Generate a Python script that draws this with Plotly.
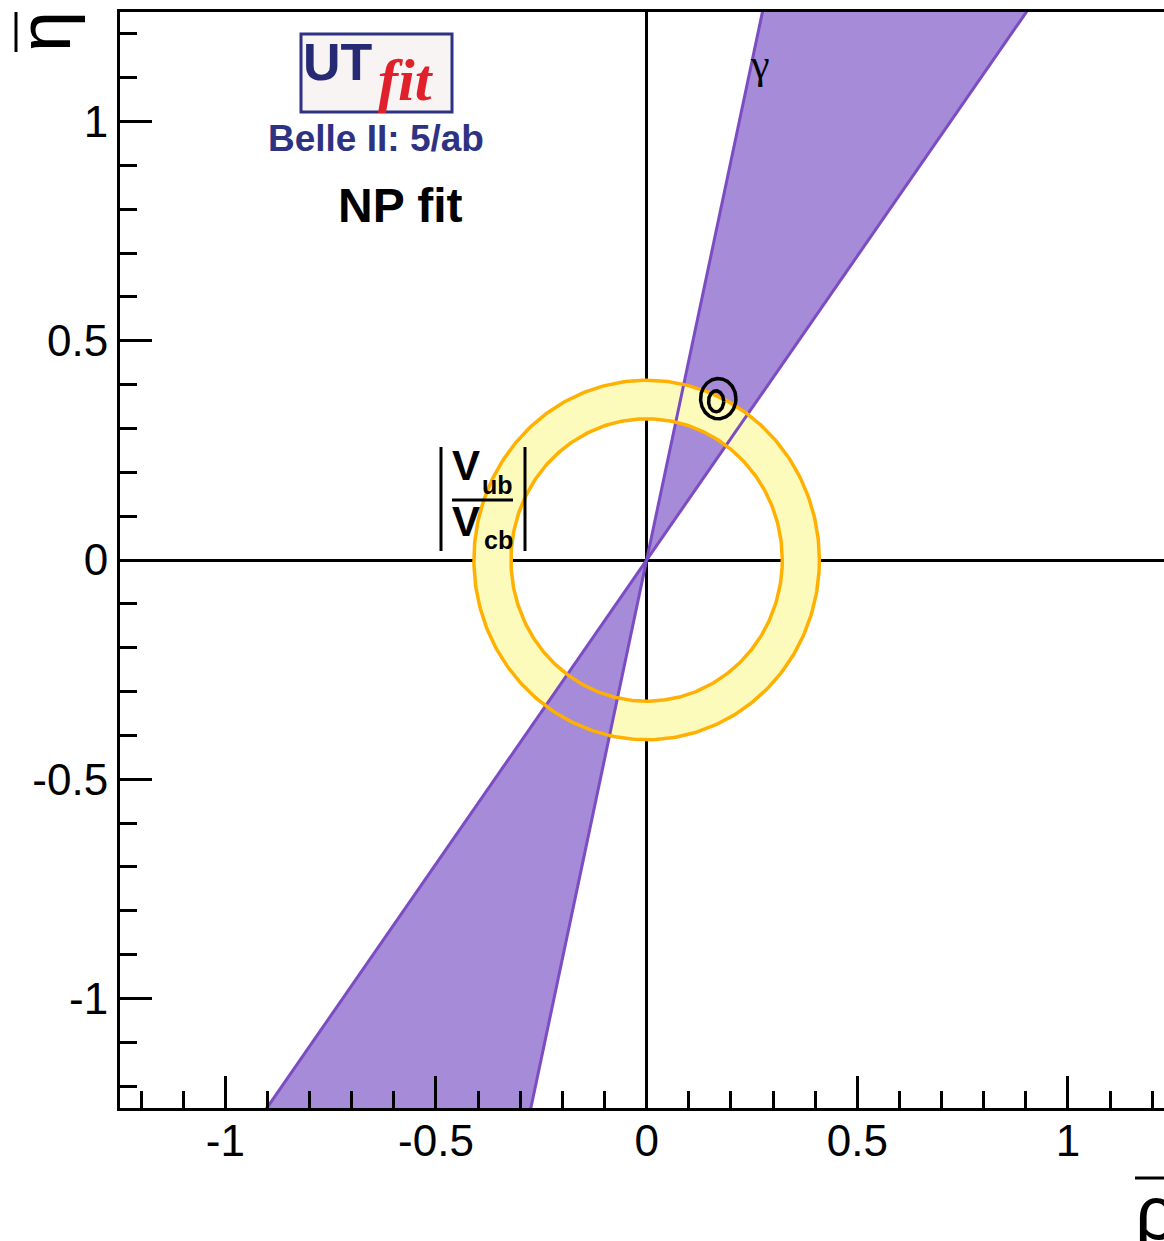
import numpy as np
import plotly.graph_objects as go

# ---------------- data ----------------
x_range = [-1.25, 1.228]
y_range = [-1.25, 1.25]
gamma_band_deg = [54.2, 77.6]          # edges of the gamma band (degrees)
rb_radii = [0.322, 0.410]              # |Vub/Vcb| ring: inner / outer radius
contour_cx = [0.170, 0.165]            # fit contours (outer, inner)
contour_cy = [0.368, 0.362]
contour_rx = [0.042, 0.018]
contour_ry = [0.046, 0.024]
tick_vals = [-1, -0.5, 0, 0.5, 1]
tick_text = ["-1", "-0.5", "0", "0.5", "1"]

# ---------------- styles ----------------
BAND_FILL = "#a68bd9"
BAND_EDGE = "#7b4cc2"
RING_FILL = "#fdfbbb"
RING_EDGE = "#ffb000"
NAVY = "#2d3282"
FONT = "Liberation Sans"

W, H = 1164, 1241
L, R, T, B = 120, 0, 12, 1241 - 1108
PW, PH = W - L - R, H - T - B


def px(xp):          # page pixel -> paper
    return (xp - L) / PW


def py(yp):
    return (H - B - yp) / PH


fig = go.Figure()

far = 4.0
a1, a2 = np.radians(gamma_band_deg)
ca1, sa1, ca2, sa2 = np.cos(a1), np.sin(a1), np.cos(a2), np.sin(a2)

# upper band fill
fig.add_trace(go.Scatter(x=[0, far * ca1, far * ca2, 0], y=[0, far * sa1, far * sa2, 0],
                         mode="none", fill="toself", fillcolor=BAND_FILL, hoverinfo="skip"))

# ring fill
t = np.linspace(0, 2 * np.pi, 361)
r_in, r_out = rb_radii
ring_x = np.concatenate([r_out * np.cos(t), r_in * np.cos(t[::-1])])
ring_y = np.concatenate([r_out * np.sin(t), r_in * np.sin(t[::-1])])
fig.add_trace(go.Scatter(x=ring_x, y=ring_y, mode="none", fill="toself",
                         fillcolor=RING_FILL, hoverinfo="skip"))

# lower band fill
fig.add_trace(go.Scatter(x=[0, -far * ca1, -far * ca2, 0], y=[0, -far * sa1, -far * sa2, 0],
                         mode="none", fill="toself", fillcolor=BAND_FILL, hoverinfo="skip"))

# band edges
fig.add_trace(go.Scatter(x=[-far * ca1, far * ca1, None, -far * ca2, far * ca2],
                         y=[-far * sa1, far * sa1, None, -far * sa2, far * sa2],
                         mode="lines", line=dict(color=BAND_EDGE, width=3), hoverinfo="skip"))

# ring edges
for r in rb_radii:
    fig.add_trace(go.Scatter(x=r * np.cos(t), y=r * np.sin(t), mode="lines",
                             line=dict(color=RING_EDGE, width=3.5), hoverinfo="skip"))

# contours
for cx, cy, rx, ry in zip(contour_cx, contour_cy, contour_rx, contour_ry):
    fig.add_trace(go.Scatter(x=cx + rx * np.cos(t), y=cy + ry * np.sin(t), mode="lines",
                             line=dict(color="black", width=3.5), hoverinfo="skip"))

axis_common = dict(
    showgrid=False, zeroline=True, zerolinecolor="black", zerolinewidth=2.5,
    showline=True, linecolor="black", linewidth=3,
    ticks="inside", ticklen=32, tickwidth=3, tickcolor="black",
    tickvals=tick_vals, ticktext=tick_text,
    tickfont=dict(family=FONT, size=44, color="black"),
    minor=dict(ticks="inside", ticklen=17, tickwidth=2.5, tickcolor="black", dtick=0.1, tick0=0),
    layer="above traces",
)

fig.update_layout(
    width=W, height=H,
    margin=dict(l=L, r=R, t=T, b=B),
    paper_bgcolor="white", plot_bgcolor="white",
    showlegend=False,
    xaxis=dict(range=x_range, mirror=True, ticklabelstandoff=-8, **axis_common),
    yaxis=dict(range=y_range, mirror=False, **axis_common),
)

shapes = []
ann = []

# logo box
shapes.append(dict(type="rect", xref="paper", yref="paper",
                   x0=px(301), x1=px(452), y0=py(112), y1=py(34),
                   line=dict(color=NAVY, width=3), fillcolor="#f7f4f3", layer="above"))
ann.append(dict(text="<b>UT</b>", x=px(338), y=py(62), font=dict(family=FONT, size=52, color="#262a74")))
ann.append(dict(text="<b><i>fit</i></b>", x=px(406), y=py(80), font=dict(family="Liberation Serif", size=60, color="#e0202a")))
ann.append(dict(text="<b>Belle II: 5/ab</b>", x=px(376), y=py(138), font=dict(family=FONT, size=37, color=NAVY)))
ann.append(dict(text="<b>NP fit</b>", x=px(400), y=py(205), font=dict(family=FONT, size=48, color="black")))
ann.append(dict(text="γ", x=px(760), y=py(64), font=dict(family="Liberation Serif", size=42, color="black")))

# |Vub/Vcb| label
ann.append(dict(text="<b>V</b>", x=px(466), y=py(465), font=dict(family=FONT, size=42, color="black")))
ann.append(dict(text="<b>ub</b>", x=px(497), y=py(485), font=dict(family=FONT, size=25, color="black")))
ann.append(dict(text="<b>V</b>", x=px(466), y=py(521), font=dict(family=FONT, size=42, color="black")))
ann.append(dict(text="<b>cb</b>", x=px(498), y=py(540), font=dict(family=FONT, size=25, color="black")))
for x0, y0, x1, y1 in [(452, 500, 513, 500), (441, 447, 441, 551), (525, 447, 525, 551)]:
    shapes.append(dict(type="line", xref="paper", yref="paper", x0=px(x0), x1=px(x1), y0=py(y0), y1=py(y1),
                       line=dict(color="black", width=3), layer="above"))

# axis titles
ann.append(dict(text="η", x=px(44), y=py(32), textangle=-90, font=dict(family=FONT, size=74, color="black")))
shapes.append(dict(type="line", xref="paper", yref="paper", x0=px(16), x1=px(16), y0=py(12), y1=py(52),
                   line=dict(color="black", width=3)))
ann.append(dict(text="ρ", x=px(1133), y=py(1212), xanchor="left",
                font=dict(family=FONT, size=76, color="black")))
shapes.append(dict(type="line", xref="paper", yref="paper", x0=px(1135), x1=px(1170), y0=py(1178), y1=py(1178),
                   line=dict(color="black", width=3)))

for a in ann:
    a.setdefault("xanchor", "center")
    a.update(xref="paper", yref="paper", showarrow=False, yanchor="middle")

fig.update_layout(shapes=shapes, annotations=ann)
fig.write_html("out.html", config={"displayModeBar": False},
               post_script="document.body.style.margin='0px';")
